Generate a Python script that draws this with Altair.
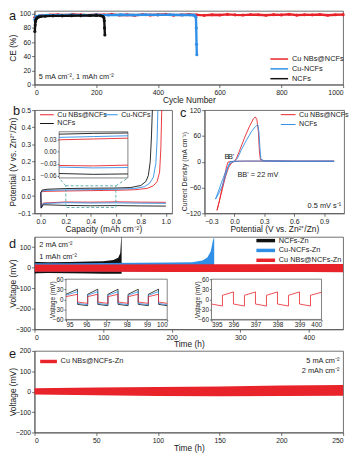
import altair as alt
import pandas as pd

FONT = "Liberation Sans"
RED = "#e8232a"
BLUE = "#2f8fe6"
BLACK = "#111111"
FRAME = "#4d4d4d"
TEAL = "#3f9ea0"
TXT = "#1a1a1a"

# ---------------- panel a : coulombic efficiency ----------------
A_SERIES = ["Cu NBs@NCFs", "Cu-NCFs", "NCFs"]
A_RED_CYCLE = [1, 25, 50, 75, 100, 125, 150, 175, 200, 225, 250, 275, 300, 325, 350, 375, 400, 425, 450, 475,
               500, 525, 550, 575, 600, 625, 650, 675, 700, 725, 750, 775, 800, 825, 850, 875, 900, 925, 950, 975, 1000]
A_RED_CE = [95.0, 97.6, 98.2, 98.6, 98.0, 98.9, 98.3, 97.8, 98.7, 98.4, 99.0, 98.1, 98.5, 97.9, 98.8, 98.2, 98.6,
            99.1, 98.0, 98.4, 98.9, 98.3, 97.7, 98.6, 98.2, 99.0, 98.4, 98.1, 98.8, 98.5, 97.9, 98.7, 98.3, 99.2,
            98.0, 98.6, 98.4, 98.9, 97.8, 98.5, 98.7]
A_BLUE_CYCLE = [1, 5, 15, 40, 80, 120, 160, 200, 240, 280, 320, 360, 400, 440, 480, 505, 515, 520, 523, 524, 525, 526]
A_BLUE_CE = [92, 96, 97.2, 97.8, 98.0, 98.3, 98.0, 98.4, 98.1, 98.5, 98.2, 98.6, 98.3, 98.5, 98.2, 98.4, 98.0,
             97.5, 95, 80, 57, 42]
A_BLACK_CYCLE = [1, 2, 3, 4, 6, 9, 14, 20, 35, 60, 90, 120, 150, 180, 200, 215, 222, 225, 226, 227, 228]
A_BLACK_CE = [75, 84, 89, 91, 93, 94.5, 95.5, 96, 96.5, 97, 97, 97.2, 97.3, 97.5, 97.6, 97.2, 96, 94, 90, 80, 70]

# ---------------- panel b : voltage profiles ----------------
B_LEGEND_ORDER = ["Cu NBs@NCFs", "NCFs", "Cu-NCFs"]   # column-major legend order
B_PLATE_CAP = [0.0, 0.003, 0.02, 0.2, 0.4, 0.6, 0.8, 1.0]
B_RED_PLATE = [0.02, -0.065, -0.040, -0.034, -0.035, -0.033, -0.035, -0.036]
B_BLUE_PLATE = [0.02, -0.068, -0.043, -0.038, -0.040, -0.039, -0.041, -0.042]
B_BLACK_PLATE = [0.02, -0.070, -0.050, -0.054, -0.056, -0.055, -0.057, -0.058]
B_RED_STRIP_CAP = [0.0, 0.01, 0.05, 0.2, 0.4, 0.6, 0.75, 0.85, 0.9, 0.93, 0.95, 0.96, 0.967]
B_RED_STRIP = [0.02, 0.026, 0.028, 0.030, 0.032, 0.034, 0.037, 0.045, 0.06, 0.085, 0.14, 0.28, 0.5]
B_BLUE_STRIP_CAP = [0.0, 0.01, 0.05, 0.2, 0.4, 0.6, 0.75, 0.83, 0.87, 0.9, 0.92, 0.93, 0.936]
B_BLUE_STRIP = [0.02, 0.030, 0.033, 0.036, 0.038, 0.040, 0.044, 0.055, 0.075, 0.11, 0.19, 0.33, 0.5]
B_BLACK_STRIP_CAP = [0.0, 0.01, 0.05, 0.2, 0.4, 0.6, 0.72, 0.8, 0.84, 0.86, 0.875, 0.885, 0.892]
B_BLACK_STRIP = [0.02, 0.035, 0.040, 0.044, 0.046, 0.047, 0.050, 0.062, 0.085, 0.12, 0.2, 0.35, 0.5]
B_ZOOM_BOX = [0.2, 0.6, -0.066, 0.06]          # dashed region in the main plot
B_INSET_DOMAIN = [0.2, 0.6, -0.065, 0.05]      # inset axes domain

# ---------------- panel c : CV ----------------
C_SERIES = ["Cu NBs@NCFs", "NCFs"]
C_RED_V = [1.0, 0.6, 0.3, 0.1, 0.0, -0.04, -0.065, -0.08, -0.1, -0.13, -0.155, -0.175, -0.15, -0.12, -0.09, -0.06,
           -0.03, 0.0, 0.02, 0.05, 0.1, 0.15, 0.19, 0.21, 0.225, 0.24, 0.25, 0.26, 0.3, 0.6, 1.0]
C_RED_I = [1, 1, 1.5, 1.5, 1, 0.5, -1, -12, -35, -68, -95, -113, -90, -62, -35, -14, -3, 1, 8, 25, 55, 82, 100,
           104, 98, 70, 25, 5, 2, 1.5, 1.5]
C_BLUE_V = [1.0, 0.6, 0.3, 0.1, 0.0, -0.043, -0.06, -0.09, -0.12, -0.16, -0.19, -0.16, -0.12, -0.08, -0.04, 0.0,
            0.03, 0.07, 0.12, 0.17, 0.21, 0.235, 0.245, 0.255, 0.265, 0.3, 0.6, 1.0]
C_BLUE_I = [1, 1, 1.5, 1.5, 1, 0, -8, -32, -55, -75, -87, -68, -42, -18, -3, 1, 8, 28, 50, 70, 82, 86, 70, 35, 6,
            2, 1.5, 1.5]
C_NOTE_V = [-0.1, -0.066, 0.03]
C_NOTE_I = [12, 12, -30]
C_NOTES = ["B", "B'", "BB' = 22 mV"]
C_RATE = ["0.5 mV s⁻¹"]
C_RATE_V = [1.07]
C_RATE_I = [-104]

# ---------------- panel d : symmetric cells 2 mA ----------------
D_SERIES = ["NCFs-Zn", "Cu-NCFs-Zn", "Cu NBs@NCFs-Zn"]
D_BLACK_T = [0, 5, 20, 50, 80, 100, 115, 122, 125, 126.5, 127]
D_BLACK_TOP = [28, 28, 27, 28, 30, 32, 38, 48, 70, 150, 150]
D_BLACK_BOT = [-28, -27, -26, -27, -28, -29, -30, -30, -30, -30, -30]
D_BLUE_T = [0, 50, 100, 150, 200, 230, 245, 252, 257, 260, 262]
D_BLUE_TOP = [22, 22, 23, 24, 25, 27, 35, 50, 80, 130, 150]
D_BLUE_BOT = [-18, -18, -19, -19, -19, -19, -19, -19, -19, -19, -19]
D_RED_T = [0, 100, 200, 300, 400, 450]
D_RED_TOP = [16, 16, 17, 17, 18, 18]
D_RED_BOT = [-20, -20, -21, -21, -21, -22]
D_IN1_T = [95.0, 95.57, 95.57, 96.07, 96.07, 96.57, 96.57, 97.07, 97.07, 97.57, 97.57, 98.07, 98.07, 98.57,
           98.57, 99.07, 99.07, 99.57, 99.57, 100.0]
D_IN1_BLACK = [15, 30, -15, -19, 15, 30, -15, -19, 15, 30, -15, -19, 15, 30, -15, -19, 15, 30, -15, -19]
D_IN1_BLUE = [12, 23, -12, -16, 12, 23, -12, -16, 12, 23, -12, -16, 12, 23, -12, -16, 12, 23, -12, -16]
D_IN1_RED = [8, 15, -8, -12, 8, 15, -8, -12, 8, 15, -8, -12, 8, 15, -8, -12, 8, 15, -8, -12]
D_IN2_T = [395.0, 395.5, 395.5, 396.0, 396.0, 396.5, 396.5, 397.0, 397.0, 397.5, 397.5, 398.0, 398.0, 398.5,
           398.5, 399.0, 399.0, 399.5, 399.5, 400.0]
D_IN2_RED = [-14, -20, 12, 22, -14, -20, 12, 22, -14, -20, 12, 22, -14, -20, 12, 22, -14, -20, 12, 21]

# ---------------- panel e : symmetric cell 5 mA ----------------
E_SERIES = ["Cu NBs@NCFs-Zn"]
E_T = [0, 50, 100, 150, 200, 250]
E_TOP = [17, 20, 23, 26, 30, 33]
E_BOT = [-14, -18, -21, -22, -21, -20]

# ---------------- layout (pixels) ----------------
A_W, A_H = 314, 75
B_W, B_H = 140, 105
C_W, C_H = 142, 105
D_W, D_H = 314, 94
E_W, E_H = 314, 83
B_INSET_PX = [25, 95, 22, 69]      # left, right, top, bottom inside plot b
D_IN1_PX = [32, 135, 43, 84]
D_IN2_PX = [180, 292, 43, 84]
YEXT = 17

B_XDOM = [-0.05, 1.05]
B_YDOM = [-0.1, 0.5]

SYM_SIZE = 36          # sqrt -> 6 px nominal symbol box
UNIT = 3.0             # px per path unit for SYM_SIZE


def letter(ch, dx, dy):
    return alt.Chart(pd.DataFrame({"t": [ch]})).mark_text(
        fontSize=13, font=FONT, align="left", baseline="middle", color=TXT
    ).encode(text="t:N", x=alt.value(dx), y=alt.value(dy))


def legend(sym_left, top, length, thick=0.0, row_pad=2, **kw):
    h = length / 2 / UNIT
    if thick > 0:
        t = thick / 2 / UNIT
        path = f"M{-h:.3f},{-t:.3f}H{h:.3f}V{t:.3f}H{-h:.3f}Z"
    else:
        path = f"M{-h:.3f},0H{h:.3f}"
    shift = length / 2 - UNIT
    return alt.Legend(title=None, orient="none", legendX=sym_left + shift, legendY=top,
                      symbolType=path, symbolSize=SYM_SIZE, labelOffset=shift + 3,
                      rowPadding=row_pad, **kw)


# ================= panel a =================
a_frames = []
for name, cyc, ce in [("Cu NBs@NCFs", A_RED_CYCLE, A_RED_CE), ("Cu-NCFs", A_BLUE_CYCLE, A_BLUE_CE),
                      ("NCFs", A_BLACK_CYCLE, A_BLACK_CE)]:
    a_frames.append(pd.DataFrame({"cycle": cyc, "ce": ce, "sa": name}))
ax_x = alt.X("cycle:Q", scale=alt.Scale(domain=[0, 1000], nice=False, zero=False),
             axis=alt.Axis(title="Cycle Number", values=[0, 200, 400, 600, 800, 1000], format="d"))
ax_y = alt.Y("ce:Q", scale=alt.Scale(domain=[0, 104], nice=False, zero=False),
             axis=alt.Axis(title="CE (%)", values=[0, 20, 40, 60, 80, 100], minExtent=YEXT, maxExtent=YEXT))
a_color = alt.Color("sa:N", scale=alt.Scale(domain=A_SERIES, range=[RED, BLUE, BLACK]),
                    legend=legend(239, 45, 18, symbolStrokeWidth=1.5))
a_layers = [alt.Chart(df).mark_line(strokeWidth=2.4, point=alt.OverlayMarkDef(size=10, filled=True)).encode(
    x=ax_x, y=ax_y, color=a_color) for df in a_frames]
a_note = alt.Chart(pd.DataFrame({"cycle": [14], "ce": [11], "label": ["5 mA cm⁻², 1 mAh cm⁻²"]})).mark_text(
    align="left", baseline="middle", fontSize=7.5, font=FONT, color=TXT).encode(x=ax_x, y=ax_y, text="label:N")
panel_a = alt.layer(*a_layers, a_note, letter("a", -26, 5)).properties(width=A_W, height=A_H)

# ================= panel b =================
b_rows = []
for name, pc, pv, sc, sv in [("Cu NBs@NCFs", B_PLATE_CAP, B_RED_PLATE, B_RED_STRIP_CAP, B_RED_STRIP),
                             ("Cu-NCFs", B_PLATE_CAP, B_BLUE_PLATE, B_BLUE_STRIP_CAP, B_BLUE_STRIP),
                             ("NCFs", B_PLATE_CAP, B_BLACK_PLATE, B_BLACK_STRIP_CAP, B_BLACK_STRIP)]:
    for i, (c, v) in enumerate(zip(pc, pv)):
        b_rows.append({"cap": c, "pot": v, "sb": name, "seg": name + "p", "idx": i})
    for i, (c, v) in enumerate(zip(sc, sv)):
        b_rows.append({"cap": c, "pot": v, "sb": name, "seg": name + "s", "idx": i})
b_df = pd.DataFrame(b_rows)

bx = alt.X("cap:Q", scale=alt.Scale(domain=B_XDOM, nice=False, zero=False),
           axis=alt.Axis(title="Capacity (mAh cm⁻²)", values=[0, 0.2, 0.4, 0.6, 0.8, 1.0], format=".1f"))
by = alt.Y("pot:Q", scale=alt.Scale(domain=B_YDOM, nice=False, zero=False),
           axis=alt.Axis(title="Potential (V vs. Zn²⁺/Zn)", values=[-0.1, 0, 0.1, 0.2, 0.3, 0.4, 0.5],
                         format=".1f", minExtent=YEXT, maxExtent=YEXT))
b_color = alt.Color("sb:N", scale=alt.Scale(domain=B_LEGEND_ORDER, range=[RED, BLACK, BLUE]),
                    legend=legend(5, 1, 14, row_pad=1, columns=2, columnPadding=-12, symbolStrokeWidth=1,
                                  labelFontSize=7.2))
b_lines = alt.Chart(b_df).mark_line(strokeWidth=0.9).encode(
    x=bx, y=by, color=b_color, detail="seg:N", order="idx:Q")
b_box = alt.Chart(pd.DataFrame({"cap": [B_ZOOM_BOX[0]], "cap2": [B_ZOOM_BOX[1]],
                                "pot": [B_ZOOM_BOX[2]], "pot2": [B_ZOOM_BOX[3]]})).mark_rect(
    fillOpacity=0, stroke=TEAL, strokeDash=[3, 2], strokeWidth=0.8).encode(x=bx, x2="cap2:Q", y=by, y2="pot2:Q")


def b_px_to_data(px, py):
    return (B_XDOM[0] + px / B_W * (B_XDOM[1] - B_XDOM[0]),
            B_YDOM[1] - py / B_H * (B_YDOM[1] - B_YDOM[0]))


lx, ly = b_px_to_data(B_INSET_PX[0], B_INSET_PX[3])
rx, ry = b_px_to_data(B_INSET_PX[1], B_INSET_PX[3])
b_conn = alt.Chart(pd.DataFrame({"cap": [B_ZOOM_BOX[0], B_ZOOM_BOX[1]], "pot": [B_ZOOM_BOX[3], B_ZOOM_BOX[3]],
                                 "cap2": [lx, rx], "pot2": [ly, ry]})).mark_rule(
    stroke=TEAL, strokeDash=[3, 2], strokeWidth=0.8).encode(x=bx, x2="cap2:Q", y=by, y2="pot2:Q")
b_main = alt.layer(b_lines, b_box, b_conn, letter("b", -22, 1))

bix = alt.X("cap:Q", scale=alt.Scale(domain=B_INSET_DOMAIN[:2], range=B_INSET_PX[:2], nice=False, zero=False),
            axis=None)
biy = alt.Y("pot:Q", scale=alt.Scale(domain=B_INSET_DOMAIN[2:], range=[B_INSET_PX[3], B_INSET_PX[2]],
                                     nice=False, zero=False),
            axis=alt.Axis(orient="left", offset=-B_INSET_PX[0], values=[-0.06, -0.03, 0, 0.03], format=".2f",
                          title=None, labelFontSize=6.5, tickSize=2, labelPadding=1, minExtent=8, maxExtent=8))
b_in_frame = alt.Chart(pd.DataFrame({"cap": [B_INSET_DOMAIN[0]], "cap2": [B_INSET_DOMAIN[1]],
                                     "pot": [B_INSET_DOMAIN[2]], "pot2": [B_INSET_DOMAIN[3]]})).mark_rect(
    fill="white", stroke=FRAME, strokeWidth=0.7).encode(x=bix, x2="cap2:Q", y=biy, y2="pot2:Q")
b_in_lines = alt.Chart(b_df).transform_filter("datum.cap >= 0.2 && datum.cap <= 0.6").mark_line(
    strokeWidth=0.9).encode(x=bix, y=biy, color=b_color, detail="seg:N", order="idx:Q")
b_inset = alt.layer(b_in_frame, b_in_lines)
panel_b = alt.layer(b_main, b_inset).resolve_scale(x="independent", y="independent").properties(
    width=B_W, height=B_H)

# ================= panel c =================
c_rows = []
for name, vv, ii in [("Cu NBs@NCFs", C_RED_V, C_RED_I), ("NCFs", C_BLUE_V, C_BLUE_I)]:
    for k, (v, i) in enumerate(zip(vv, ii)):
        c_rows.append({"pv": v, "cd": i, "sc": name, "idx": k})
c_df = pd.DataFrame(c_rows)
cx = alt.X("pv:Q", scale=alt.Scale(domain=[-0.3, 1.1], nice=False, zero=False),
           axis=alt.Axis(title="Potential (V vs. Zn²⁺/Zn)", values=[-0.3, 0, 0.3, 0.6, 0.9], format=".1f"))
cy = alt.Y("cd:Q", scale=alt.Scale(domain=[-120, 120], nice=False, zero=False),
           axis=alt.Axis(title="Current Density (mA cm⁻²)", values=[-120, -60, 0, 60, 120],
                         minExtent=YEXT, maxExtent=YEXT, titleFontSize=7.0, titleY=62))
c_color = alt.Color("sc:N", scale=alt.Scale(domain=C_SERIES, range=[RED, BLUE]),
                    legend=legend(77, 1, 15, row_pad=2, symbolStrokeWidth=1, labelFontSize=7.2))
c_lines = alt.Chart(c_df).mark_line(strokeWidth=0.9).encode(x=cx, y=cy, color=c_color, detail="sc:N",
                                                             order="idx:Q")
c_notes = alt.Chart(pd.DataFrame({"pv": C_NOTE_V, "cd": C_NOTE_I, "label": C_NOTES})).mark_text(
    align="left", baseline="middle", fontSize=7.5, font=FONT, color=TXT).encode(x=cx, y=cy, text="label:N")
c_rate = alt.Chart(pd.DataFrame({"pv": C_RATE_V, "cd": C_RATE_I, "label": C_RATE})).mark_text(
    align="right", baseline="middle", fontSize=7.5, font=FONT, color=TXT).encode(x=cx, y=cy, text="label:N")
panel_c = alt.layer(c_lines, c_notes, c_rate, letter("c", -25, 3)).properties(width=C_W, height=C_H)

# ================= panel d =================
d_frames = []
for name, tt, top, bot in [("NCFs-Zn", D_BLACK_T, D_BLACK_TOP, D_BLACK_BOT),
                           ("Cu-NCFs-Zn", D_BLUE_T, D_BLUE_TOP, D_BLUE_BOT),
                           ("Cu NBs@NCFs-Zn", D_RED_T, D_RED_TOP, D_RED_BOT)]:
    d_frames.append(pd.DataFrame({"t": tt, "v": top, "v2": bot, "sd": name}))
dxe = alt.X("t:Q", scale=alt.Scale(domain=[0, 450], nice=False, zero=False),
            axis=alt.Axis(title="Time (h)", values=[0, 100, 200, 300, 400]))
dye = alt.Y("v:Q", scale=alt.Scale(domain=[-300, 150], nice=False, zero=False),
            axis=alt.Axis(title="Voltage (mV)", values=[-300, -200, -100, 0, 100], minExtent=YEXT, maxExtent=YEXT))
d_color = alt.Color("sd:N", scale=alt.Scale(domain=D_SERIES, range=[BLACK, BLUE, RED]),
                    legend=legend(225, 0, 19, thick=3.5, row_pad=1, symbolStrokeWidth=0))
d_areas = [alt.Chart(df).mark_area(clip=True, opacity=1).encode(x=dxe, y=dye, y2="v2:Q", color=d_color)
           for df in d_frames]
d_notes = alt.Chart(pd.DataFrame({"t": [7, 7], "v": [110, 52],
                                  "label": ["2 mA cm⁻²", "1 mAh cm⁻²"]})).mark_text(
    align="left", baseline="middle", fontSize=7.5, font=FONT, color=TXT).encode(x=dxe, y=dye, text="label:N")
d_main = alt.layer(*d_areas, d_notes, letter("d", -26, 7))


def inset_axes(px, xdom, xvals):
    ix = alt.X("t:Q", scale=alt.Scale(domain=xdom, range=px[:2], nice=False, zero=False),
               axis=alt.Axis(orient="bottom", offset=-(D_H - px[3]), values=xvals, title=None,
                             labelFontSize=6.5, tickSize=2, labelPadding=0))
    iy = alt.Y("v:Q", scale=alt.Scale(domain=[-60, 60], range=[px[3], px[2]], nice=False, zero=False),
               axis=alt.Axis(orient="left", offset=-px[0], values=[-60, -30, 0, 30, 60], title="Voltage (mV)",
                             titleFontSize=6.5, labelFontSize=6.5, tickSize=2, labelPadding=1, titlePadding=1,
                             minExtent=10, maxExtent=10))
    return ix, iy


i1x, i1y = inset_axes(D_IN1_PX, [95, 100], [95, 96, 97, 98, 99, 100])
i2x, i2y = inset_axes(D_IN2_PX, [395, 400], [395, 396, 397, 398, 399, 400])


def inset_frame(ix, iy, xdom):
    return alt.Chart(pd.DataFrame({"t": [xdom[0]], "t2": [xdom[1]], "v": [-60], "v2": [60]})).mark_rect(
        fill="white", stroke=FRAME, strokeWidth=0.7).encode(x=ix, x2="t2:Q", y=iy, y2="v2:Q")


def inset_line(tt, vv, name, ix, iy):
    df = pd.DataFrame({"t": tt, "v": vv, "sd": name, "idx": list(range(len(tt)))})
    return alt.Chart(df).mark_line(strokeWidth=0.8).encode(x=ix, y=iy, color=d_color, order="idx:Q")


d_in1 = alt.layer(inset_frame(i1x, i1y, [95, 100]),
                  inset_line(D_IN1_T, D_IN1_BLACK, "NCFs-Zn", i1x, i1y),
                  inset_line(D_IN1_T, D_IN1_BLUE, "Cu-NCFs-Zn", i1x, i1y),
                  inset_line(D_IN1_T, D_IN1_RED, "Cu NBs@NCFs-Zn", i1x, i1y))
d_in2 = alt.layer(inset_frame(i2x, i2y, [395, 400]),
                  inset_line(D_IN2_T, D_IN2_RED, "Cu NBs@NCFs-Zn", i2x, i2y))
panel_d = alt.layer(d_main, d_in1, d_in2).resolve_scale(x="independent", y="independent").properties(
    width=D_W, height=D_H)

# ================= panel e =================
e_df = pd.DataFrame({"t": E_T, "v": E_TOP, "v2": E_BOT, "se": E_SERIES[0]})
exe = alt.X("t:Q", scale=alt.Scale(domain=[0, 250], nice=False, zero=False),
            axis=alt.Axis(title="Time (h)", values=[0, 50, 100, 150, 200, 250]))
eye = alt.Y("v:Q", scale=alt.Scale(domain=[-200, 200], nice=False, zero=False),
            axis=alt.Axis(title="Voltage (mV)", values=[-200, -100, 0, 100, 200], minExtent=YEXT, maxExtent=YEXT))
e_color = alt.Color("se:N", scale=alt.Scale(domain=E_SERIES, range=[RED]),
                    legend=legend(5, 7, 17, thick=3.5, row_pad=1, symbolStrokeWidth=0))
e_area = alt.Chart(e_df).mark_area(opacity=1).encode(x=exe, y=eye, y2="v2:Q", color=e_color)
e_notes = alt.Chart(pd.DataFrame({"t": [247, 247], "v": [151, 102],
                                  "label": ["5 mA cm⁻²", "2 mAh cm⁻²"]})).mark_text(
    align="right", baseline="middle", fontSize=7.5, font=FONT, color=TXT).encode(x=exe, y=eye, text="label:N")
panel_e = alt.layer(e_area, e_notes, letter("e", -26, 3)).properties(width=E_W, height=E_H)

# ================= assemble =================
IND = dict(x="independent", y="independent", color="independent")
row2 = alt.hconcat(panel_b, panel_c, spacing=6).resolve_scale(**IND)
top = alt.vconcat(panel_a, row2, spacing=0).resolve_scale(**IND)
bottom = alt.vconcat(panel_d, panel_e, spacing=-3).resolve_scale(**IND)
chart = alt.vconcat(top, bottom, spacing=3).resolve_scale(**IND).properties(
    padding={"left": 0, "top": -3, "right": 0, "bottom": 0}, background="white"
).configure(font=FONT).configure_view(stroke=FRAME, strokeWidth=0.8).configure_axis(
    labelFont=FONT, titleFont=FONT, labelFontSize=7, titleFontSize=8.5, titleFontWeight="normal",
    labelColor=TXT, titleColor=TXT, domainColor=FRAME, tickColor=FRAME, tickSize=3, labelPadding=1,
    titlePadding=0, grid=False, domainWidth=0.8, tickWidth=0.8
).configure_legend(
    labelFont=FONT, labelFontSize=7.5, labelColor=TXT, padding=0, labelLimit=200
)

chart.save("out.html", embed_options={"renderer": "svg", "actions": False})
